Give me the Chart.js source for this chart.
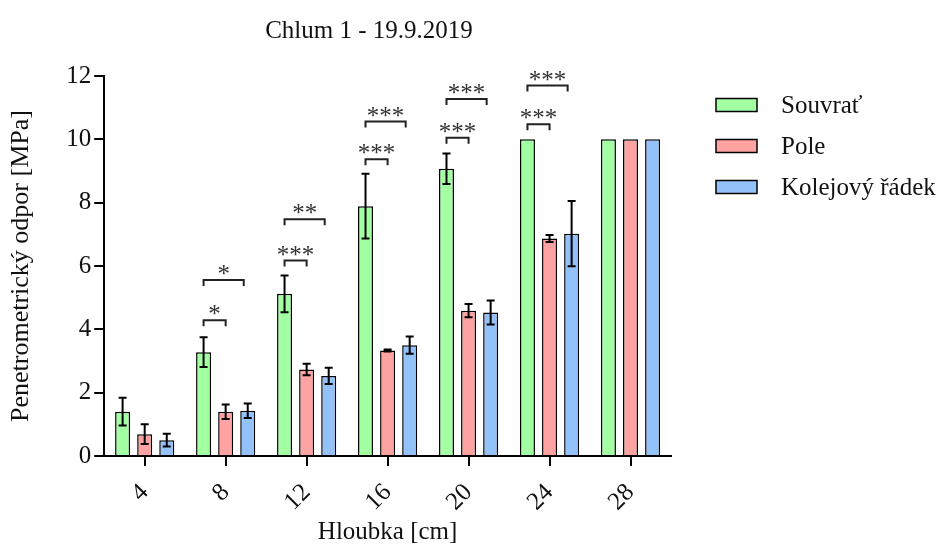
<!DOCTYPE html>
<html>
<head>
<meta charset="utf-8">
<script src="https://cdn.jsdelivr.net/npm/chart.js@4.4.1/dist/chart.umd.min.js"></script>
<style>
  html, body { margin: 0; padding: 0; background: #fff; }
  #wrap { width: 941px; height: 547px; }
</style>
</head>
<body>
<div id="wrap"><canvas id="chart"></canvas></div>
<script>
const depths = ['4', '8', '12', '16', '20', '24', '28'];

const souvrat = [1.40, 3.28, 5.12, 7.89, 9.07, 10, 10];
const souvratErr = [0.44, 0.47, 0.58, 1.02, 0.48, 0, 0];
const pole = [0.69, 1.40, 2.73, 3.33, 4.59, 6.87, 10];
const poleErr = [0.31, 0.23, 0.18, 0.03, 0.21, 0.11, 0];
const kolej = [0.50, 1.43, 2.53, 3.50, 4.53, 7.02, 10];
const kolejErr = [0.20, 0.23, 0.26, 0.27, 0.38, 1.03, 0];

// significance brackets: category index, compared dataset (1 = Pole, 2 = Kolejový řádek), height, mark
const sigCat = [1, 1, 2, 2, 3, 3, 4, 4, 5, 5];
const sigTarget = [1, 2, 1, 2, 1, 2, 1, 2, 1, 2];
const sigLevel = [4.29, 5.56, 6.17, 7.48, 9.37, 10.56, 10.05, 11.27, 10.48, 11.70];
const sigMark = ['*', '*', '***', '**', '***', '***', '***', '***', '***', '***'];

const FONT = "'Liberation Serif', 'Times New Roman', serif";
const INK = '#111';

const errorBars = {
  id: 'errorBars',
  afterDatasetsDraw(chart) {
    const ctx = chart.ctx;
    const y = chart.scales.y;
    ctx.save();
    ctx.strokeStyle = '#000';
    ctx.lineWidth = 2;
    chart.data.datasets.forEach((ds, di) => {
      chart.getDatasetMeta(di).data.forEach((bar, i) => {
        const e = ds.errors[i];
        if (!e) return;
        const top = y.getPixelForValue(ds.data[i] + e);
        const bot = y.getPixelForValue(ds.data[i] - e);
        ctx.beginPath();
        ctx.moveTo(bar.x, top); ctx.lineTo(bar.x, bot);
        ctx.moveTo(bar.x - 4, top); ctx.lineTo(bar.x + 4, top);
        ctx.moveTo(bar.x - 4, bot); ctx.lineTo(bar.x + 4, bot);
        ctx.stroke();
      });
    });
    ctx.restore();
  }
};

const brackets = {
  id: 'brackets',
  afterDatasetsDraw(chart) {
    const ctx = chart.ctx;
    const y = chart.scales.y;
    ctx.save();
    ctx.strokeStyle = '#222';
    ctx.lineWidth = 2;
    ctx.fillStyle = '#333';
    ctx.font = '25px ' + FONT;
    ctx.textAlign = 'center';
    ctx.textBaseline = 'alphabetic';
    sigCat.forEach((c, k) => {
      const x1 = chart.getDatasetMeta(0).data[c].x;
      let x2 = chart.getDatasetMeta(sigTarget[k]).data[c].x;
      if (sigTarget[k] === 2) x2 -= 4;
      const py = y.getPixelForValue(sigLevel[k]);
      ctx.beginPath();
      ctx.moveTo(x1, py + 6); ctx.lineTo(x1, py); ctx.lineTo(x2, py); ctx.lineTo(x2, py + 6);
      ctx.stroke();
      ctx.fillText(sigMark[k], (x1 + x2) / 2, py + 2);
    });
    ctx.restore();
  }
};

const titleAndLegend = {
  id: 'titleAndLegend',
  afterDraw(chart) {
    const ctx = chart.ctx;
    const area = chart.chartArea;
    ctx.save();
    ctx.fillStyle = INK;
    ctx.font = '25px ' + FONT;
    ctx.textAlign = 'center';
    ctx.textBaseline = 'alphabetic';
    ctx.fillText('Chlum 1 - 19.9.2019', 369, 38);

    ctx.textAlign = 'left';
    ctx.textBaseline = 'middle';
    chart.data.datasets.forEach((ds, i) => {
      const bx = area.right + 45;
      const cy = area.top + 29 + i * 41;
      ctx.fillStyle = ds.backgroundColor;
      ctx.fillRect(bx, cy - 6.5, 41, 13);
      ctx.strokeStyle = '#000';
      ctx.lineWidth = 1.5;
      ctx.strokeRect(bx, cy - 6.5, 41, 13);
      ctx.fillStyle = INK;
      ctx.fillText(ds.label, bx + 65, cy + 1);
    });
    ctx.restore();
  }
};

const barStyle = {
  borderColor: '#000',
  borderWidth: 1.5,
  categoryPercentage: 0.818,
  barPercentage: 0.68,
};

new Chart(document.getElementById('chart'), {
  type: 'bar',
  data: {
    labels: depths,
    datasets: [
      { label: 'Souvrať', data: souvrat, errors: souvratErr, backgroundColor: '#a2ffa2', ...barStyle },
      { label: 'Pole', data: pole, errors: poleErr, backgroundColor: '#ffa2a2', ...barStyle },
      { label: 'Kolejový řádek', data: kolej, errors: kolejErr, backgroundColor: '#93c1fa', ...barStyle },
    ],
  },
  options: {
    responsive: true,
    maintainAspectRatio: false,
    animation: false,
    layout: { padding: { left: 0, right: 270, top: 76, bottom: 0 } },
    plugins: {
      legend: { display: false },
      title: { display: false },
      tooltip: { enabled: false },
    },
    scales: {
      x: {
        afterFit: (scale) => { scale.height = 91; },
        grid: { offset: false, drawOnChartArea: false, drawTicks: true, tickLength: 10, color: '#000', lineWidth: 2 },
        border: { display: true, color: '#000', width: 2 },
        ticks: { color: INK, minRotation: 45, maxRotation: 45, padding: 12, font: { family: FONT, size: 25 } },
        title: { display: true, text: 'Hloubka [cm]', color: INK, font: { family: FONT, size: 25 }, padding: { top: 0, bottom: 0 } },
      },
      y: {
        min: 0,
        max: 12,
        grid: { drawOnChartArea: false, drawTicks: true, tickLength: 10, color: '#000', lineWidth: 2 },
        border: { display: true, color: '#000', width: 2 },
        ticks: { stepSize: 2, padding: 3, color: INK, font: { family: FONT, size: 25 } },
        title: { display: true, text: 'Penetrometrický odpor [MPa]', color: INK, font: { family: FONT, size: 26 }, padding: { top: 6, bottom: 26 } },
      },
    },
  },
  plugins: [errorBars, brackets, titleAndLegend],
});
</script>
</body>
</html>
